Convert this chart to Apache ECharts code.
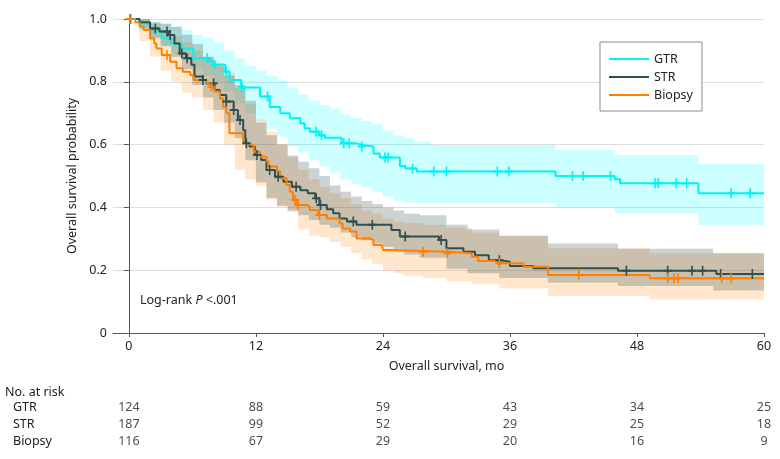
<!DOCTYPE html>
<html>
<head>
<meta charset="UTF-8">
<title>Overall survival by extent of resection</title>
<script src="https://cdn.jsdelivr.net/npm/echarts@6/dist/echarts.min.js"></script>
<style type="text/css">
  html, body { margin:0; padding:0; background-color:#FFFFFF; }
  #container { width:780px; height:459px; }
</style>
</head>
<body>
<div id="container"></div>

<script type="text/javascript">

// Kaplan-Meier steps: survival holds from each time until the next one
var gtrTime = [0, 1.0, 2.0, 3.1, 3.9, 5.0, 6.1, 7.6, 8.1, 9.1, 9.5, 10.6, 12.4, 13.3, 14.3, 15.2, 16.2, 16.6, 17.1, 18.0, 18.5, 20.1, 21.5, 22.0, 23.1, 23.7, 25.6, 26.1, 27.2, 40.3, 45.9, 46.4, 53.8];
var gtrSurv = [1.0, 0.986, 0.96, 0.938, 0.922, 0.906, 0.875, 0.864, 0.854, 0.832, 0.806, 0.782, 0.753, 0.72, 0.70, 0.684, 0.668, 0.652, 0.641, 0.63, 0.622, 0.604, 0.599, 0.594, 0.572, 0.559, 0.532, 0.524, 0.514, 0.50, 0.49, 0.477, 0.445];
var gtrCensor = [0.2, 7.4, 8.1, 9.2, 10.7, 13.1, 17.7, 18.2, 20.3, 20.8, 22.0, 24.2, 24.5, 26.8, 28.8, 30.0, 34.8, 35.9, 41.9, 42.9, 45.5, 49.7, 50.0, 51.7, 52.7, 56.9, 58.7];

var strTime = [0, 1.0, 2.0, 2.9, 3.7, 4.3, 4.8, 5.4, 5.9, 6.2, 7.0, 7.3, 8.1, 8.6, 9.2, 9.9, 10.3, 10.8, 11.0, 11.4, 11.9, 12.5, 13.0, 13.8, 14.6, 15.4, 16.2, 16.9, 17.6, 18.0, 18.7, 19.3, 19.9, 20.6, 21.5, 24.8, 25.6, 29.3, 30.0, 31.6, 32.7, 34.0, 35.1, 36.0, 38.2, 46.2, 55.5];
var strSurv = [1.0, 0.99, 0.97, 0.96, 0.949, 0.922, 0.89, 0.875, 0.854, 0.817, 0.806, 0.795, 0.774, 0.758, 0.737, 0.71, 0.678, 0.646, 0.604, 0.594, 0.567, 0.551, 0.519, 0.498, 0.482, 0.466, 0.455, 0.445, 0.429, 0.408, 0.394, 0.381, 0.365, 0.355, 0.345, 0.328, 0.307, 0.296, 0.27, 0.259, 0.248, 0.232, 0.227, 0.213, 0.206, 0.198, 0.188];
var strCensor = [0.1, 2.5, 3.6, 3.9, 5.0, 5.5, 7.0, 8.0, 9.2, 9.9, 10.5, 11.1, 12.1, 13.3, 14.1, 15.8, 17.7, 18.1, 21.2, 23.0, 26.1, 29.5, 35.0, 47.0, 50.9, 53.2, 54.2, 55.9, 58.9];

var bioTime = [0, 0.6, 1.0, 1.4, 2.0, 2.4, 2.6, 3.1, 3.9, 4.5, 5.1, 5.8, 6.1, 7.3, 7.7, 8.1, 8.6, 8.9, 9.2, 9.5, 10.8, 11.1, 11.8, 12.4, 13.0, 13.2, 14.0, 14.3, 14.9, 15.2, 15.5, 15.8, 16.8, 17.1, 17.9, 18.7, 19.9, 20.2, 20.9, 21.5, 22.8, 23.1, 23.9, 24.0, 24.4, 30.0, 32.4, 33.0, 34.9, 37.3, 39.6, 49.2];
var bioSurv = [1.0, 0.99, 0.976, 0.965, 0.938, 0.922, 0.906, 0.885, 0.864, 0.843, 0.832, 0.822, 0.806, 0.797, 0.784, 0.769, 0.747, 0.72, 0.70, 0.636, 0.604, 0.599, 0.577, 0.561, 0.546, 0.53, 0.514, 0.493, 0.471, 0.45, 0.424, 0.408, 0.402, 0.392, 0.376, 0.365, 0.349, 0.333, 0.323, 0.301, 0.296, 0.28, 0.275, 0.264, 0.259, 0.254, 0.243, 0.229, 0.222, 0.211, 0.185, 0.174];
var bioCensor = [0.1, 3.6, 7.8, 15.7, 16.0, 18.0, 27.8, 30.1, 35.0, 42.5, 50.9, 51.5, 51.9, 56.0, 56.9];

// 95% confidence bands (also step functions)
var gtrBandTime = [0, 1, 2, 3, 4, 5, 6, 7, 8, 9, 10, 11, 12, 13, 14, 15, 16, 17, 18, 19, 20, 21, 22, 23, 24, 25, 26, 27, 28.5, 40.3, 45.9, 53.8];
var gtrUpper = [1.0, 1.0, 0.99, 0.985, 0.975, 0.965, 0.95, 0.94, 0.925, 0.90, 0.875, 0.85, 0.835, 0.82, 0.805, 0.78, 0.76, 0.74, 0.725, 0.715, 0.695, 0.685, 0.675, 0.665, 0.645, 0.63, 0.62, 0.61, 0.599, 0.583, 0.567, 0.538];
var gtrLower = [1.0, 0.96, 0.935, 0.91, 0.89, 0.87, 0.845, 0.82, 0.80, 0.77, 0.73, 0.70, 0.675, 0.65, 0.625, 0.595, 0.575, 0.55, 0.53, 0.51, 0.49, 0.475, 0.465, 0.45, 0.435, 0.42, 0.415, 0.413, 0.413, 0.40, 0.381, 0.344];

var strBandTime = [0, 1, 2, 3, 4, 5, 6, 7, 8, 9, 10, 11, 12, 13, 14, 15, 16, 17, 18, 19, 20, 21, 22, 23, 24, 25, 26, 27.5, 30, 32, 35, 39.6, 46.2, 55.2];
var strUpper = [1.0, 1.0, 0.99, 0.985, 0.975, 0.95, 0.92, 0.88, 0.85, 0.82, 0.79, 0.74, 0.67, 0.63, 0.60, 0.565, 0.545, 0.525, 0.50, 0.47, 0.45, 0.435, 0.42, 0.41, 0.40, 0.39, 0.38, 0.375, 0.345, 0.33, 0.31, 0.285, 0.268, 0.254];
var strLower = [1.0, 0.97, 0.94, 0.915, 0.88, 0.84, 0.79, 0.75, 0.71, 0.67, 0.62, 0.55, 0.48, 0.43, 0.405, 0.39, 0.375, 0.36, 0.345, 0.335, 0.32, 0.305, 0.295, 0.285, 0.275, 0.265, 0.25, 0.24, 0.205, 0.19, 0.175, 0.16, 0.15, 0.135];

var bioBandTime = [0, 1, 2, 3, 4, 5, 6, 7, 8, 9, 10, 11, 12, 13, 14, 15, 16, 17, 18, 19, 20, 21, 22, 23, 24, 25, 26, 27.8, 30, 32.4, 35, 39.6, 49.2];
var bioUpper = [1.0, 1.0, 0.985, 0.965, 0.945, 0.925, 0.9, 0.88, 0.86, 0.83, 0.78, 0.73, 0.68, 0.64, 0.60, 0.56, 0.52, 0.49, 0.465, 0.445, 0.43, 0.41, 0.39, 0.38, 0.365, 0.355, 0.35, 0.345, 0.335, 0.32, 0.31, 0.27, 0.255];
var bioLower = [1.0, 0.93, 0.88, 0.835, 0.80, 0.765, 0.75, 0.71, 0.67, 0.60, 0.52, 0.49, 0.47, 0.425, 0.402, 0.386, 0.33, 0.31, 0.305, 0.29, 0.275, 0.255, 0.235, 0.22, 0.2, 0.19, 0.182, 0.174, 0.165, 0.155, 0.142, 0.118, 0.107];

// number at risk table
var riskTimes = [0, 12, 24, 36, 48, 60];
var riskRows = ['GTR', 'STR', 'Biopsy'];
var gtrRisk = [124, 88, 59, 43, 34, 25];
var strRisk = [187, 99, 52, 29, 25, 18];
var bioRisk = [116, 67, 29, 20, 16, 9];

var xTicks = [0, 12, 24, 36, 48, 60];

var END_T = 60;
var FONT = 'Noto Sans';
var TXT = '#222222';
var AXIS = '#555555';

var colGtr = '#00F2F2';
var colStr = '#2F4F4F';
var colBio = '#FF8000';

var plusSymbol = 'path://M4,0h2v4h4v2h-4v4h-2v-4h-4v-2h4z';

function stepPoints(times, vals, end) {
	var pts = [];
	for (var i = 0; i < times.length; i++) {
		if (i > 0) pts.push([times[i], vals[i - 1]]);
		pts.push([times[i], vals[i]]);
	}
	pts.push([end, vals[vals.length - 1]]);
	return pts;
}

function survAt(times, vals, t) {
	var s = vals[0];
	for (var i = 0; i < times.length; i++) {
		if (times[i] <= t) s = vals[i];
	}
	return s;
}

function bandSeries(name, times, upper, lower, fill) {
	return {
		name: name,
		type: 'custom',
		silent: true,
		z: 1,
		data: [[0, 0]],
		renderItem: function (params, api) {
			var up = stepPoints(times, upper, END_T);
			var lo = stepPoints(times, lower, END_T).reverse();
			var pts = up.concat(lo).map(function (p) { return api.coord(p); });
			return { type: 'polygon', shape: { points: pts }, style: { fill: fill } };
		}
	};
}

function lineSeries(name, times, vals, color) {
	return {
		name: name,
		type: 'line',
		data: stepPoints(times, vals, END_T),
		symbol: 'none',
		z: 3,
		itemStyle: { color: color },
		lineStyle: { color: color, width: 2 }
	};
}

function censorSeries(name, censor, times, vals, color) {
	var data = censor.map(function (t) { return [t, survAt(times, vals, t)]; });
	return {
		name: name,
		type: 'scatter',
		data: data,
		symbol: plusSymbol,
		symbolSize: [8, 10],
		silent: true,
		z: 4,
		itemStyle: { color: color, opacity: 1 }
	};
}

function riskSeries() {
	var all = [gtrRisk, strRisk, bioRisk];
	var data = [];
	for (var r = 0; r < all.length; r++) {
		for (var j = 0; j < riskTimes.length; j++) {
			data.push([riskTimes[j], r, all[r][j]]);
		}
	}
	return {
		type: 'scatter',
		xAxisIndex: 1,
		yAxisIndex: 1,
		silent: true,
		symbolSize: 1,
		itemStyle: { color: 'rgba(0,0,0,0)' },
		label: {
			show: true,
			position: 'inside',
			formatter: function (p) { return p.value[2]; },
			color: TXT,
			fontFamily: FONT,
			fontSize: 12.5
		},
		data: data
	};
}

var dom = document.getElementById('container');
var myChart = echarts.init(dom);

var option = {
	animation: false,
	backgroundColor: '#FFFFFF',
	textStyle: { fontFamily: FONT, color: TXT },
	legend: {
		data: [
			{ name: 'GTR', icon: 'rect' },
			{ name: 'STR', icon: 'rect' },
			{ name: 'Biopsy', icon: 'rect' }
		],
		orient: 'vertical',
		left: 600,
		top: 42,
		itemWidth: 40,
		itemHeight: 2,
		itemGap: 4,
		padding: [10, 9, 9, 9],
		borderColor: '#8C8C8C',
		borderWidth: 1,
		backgroundColor: '#FFFFFF',
		selectedMode: false,
		textStyle: { fontFamily: FONT, fontSize: 12.5, color: TXT, lineHeight: 14 }
	},
	grid: [
		{ left: 113, right: 16, top: 19, bottom: 126 },
		{ left: 113, right: 16, top: 399, height: 51 }
	],
	xAxis: [{
		type: 'value',
		gridIndex: 0,
		min: -1.5,
		max: 60,
		name: 'Overall survival, mo',
		nameLocation: 'middle',
		nameGap: 27,
		nameTextStyle: { fontFamily: FONT, fontSize: 12.5, color: TXT, padding: [0, 0, 0, 16] },
		axisLine: { lineStyle: { color: AXIS, width: 1 } },
		axisTick: { customValues: xTicks, length: 4, lineStyle: { color: AXIS } },
		axisLabel: { customValues: xTicks, margin: 7, fontFamily: FONT, fontSize: 12.5, color: TXT },
		splitLine: { show: false }
	}, {
		type: 'value',
		gridIndex: 1,
		min: -1.5,
		max: 60,
		show: false
	}],
	yAxis: [{
		type: 'value',
		gridIndex: 0,
		min: 0,
		max: 1,
		interval: 0.2,
		name: 'Overall survival probability',
		nameLocation: 'middle',
		nameGap: 34,
		nameTextStyle: { fontFamily: FONT, fontSize: 12.5, color: TXT },
		axisLine: { show: true, lineStyle: { color: AXIS, width: 1 } },
		axisTick: { show: true, length: 5, lineStyle: { color: AXIS } },
		axisLabel: {
			margin: 6, fontFamily: FONT, fontSize: 12.5, color: TXT,
			formatter: function (v) { return v === 0 ? '0' : v.toFixed(1); }
		},
		splitLine: { show: true, lineStyle: { color: '#DDDDDD', width: 1 } }
	}, {
		type: 'category',
		gridIndex: 1,
		data: riskRows,
		inverse: true,
		axisLine: { show: false },
		axisTick: { show: false },
		splitLine: { show: false },
		axisLabel: { align: 'left', margin: 100, fontFamily: FONT, fontSize: 12.5, color: TXT }
	}],
	graphic: [{
		type: 'text',
		left: 5,
		top: 386,
		style: { text: 'No. at risk', fill: TXT, font: '12.5px "Noto Sans"' }
	}, {
		type: 'text',
		left: 140,
		top: 294,
		style: {
			text: '{n|Log-rank }{i|P}{n| <.001}',
			fill: TXT,
			rich: {
				n: { fontFamily: FONT, fontSize: 12.5, fill: TXT },
				i: { fontFamily: FONT, fontSize: 12.5, fontStyle: 'italic', fill: TXT }
			}
		}
	}],
	series: [
		bandSeries('GTR CI', gtrBandTime, gtrUpper, gtrLower, 'rgba(0,255,255,0.2)'),
		bandSeries('Biopsy CI', bioBandTime, bioUpper, bioLower, 'rgba(255,128,0,0.2)'),
		bandSeries('STR CI', strBandTime, strUpper, strLower, 'rgba(47,79,79,0.25)'),
		lineSeries('GTR', gtrTime, gtrSurv, colGtr),
		lineSeries('STR', strTime, strSurv, colStr),
		lineSeries('Biopsy', bioTime, bioSurv, colBio),
		censorSeries('GTR censored', gtrCensor, gtrTime, gtrSurv, colGtr),
		censorSeries('STR censored', strCensor, strTime, strSurv, colStr),
		censorSeries('Biopsy censored', bioCensor, bioTime, bioSurv, colBio),
		riskSeries()
	]
};

myChart.setOption(option, true);

window.onresize = function () {
	myChart.resize();
};

</script>
</body>
</html>
